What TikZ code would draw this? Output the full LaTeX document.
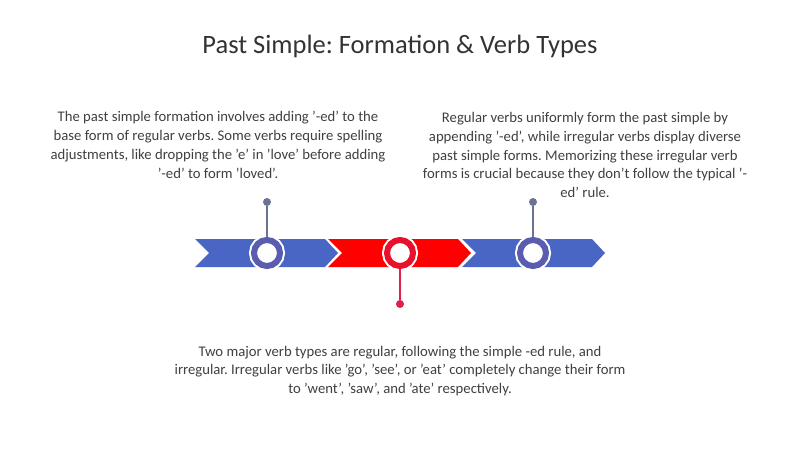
\documentclass[tikz,border=0pt]{standalone}
\usepackage{fontspec}
\setmainfont{Carlito}
\usepackage{tikz}
\usetikzlibrary{positioning,calc}

\definecolor{chevblue}{HTML}{4A66C4}
\definecolor{chevred}{HTML}{FF0000}
\definecolor{ringblue}{HTML}{5A5CB0}
\definecolor{ringred}{HTML}{E8102A}
\definecolor{stemblue}{HTML}{6B7394}
\definecolor{stemred}{HTML}{E0204A}
\definecolor{textgray}{HTML}{404040}

\newcommand{\chevron}[2]{%
  \fill[#2] (#1,239) -- ++(130,0) -- ++(13,14) -- ++(-13,14) -- ++(-130,0) -- ++(14,-14) -- cycle;}

\frenchspacing
\begin{document}
\begin{tikzpicture}[
    x=1pt, y=-1pt,
    ring/.style={circle, fill=white, draw=#1, line width=6pt, minimum size=26pt, inner sep=0pt,
                 preaction={draw=white, line width=10pt}},
    pin/.style={circle, fill=#1, minimum size=8pt, inner sep=0pt},
    stem/.style={draw, line width=1.3pt, color=#1},
    para/.style={text=textgray, font=\fontsize{14.7}{18.8}\selectfont, align=center}
]
\useasboundingbox[fill=white] (0,0) rectangle (800,449);

% Title
\node[text=black!80, font=\fontsize{26.5}{30}\selectfont] (title) at (400,46) {Past Simple: Formation \& Verb Types};

% Timeline chevrons
\chevron{195}{chevblue}
\chevron{328}{chevred}
\chevron{462}{chevblue}

% Rings on the timeline
\node[ring=ringblue] (ringA) at (267,253) {};
\node[ring=ringred] (ringB) at (400,253) {};
\node[ring=ringblue] (ringC) at (533,253) {};

% Pins and stems
\node[pin=stemblue] (pinA) at (267,202) {};
\node[pin=stemred] (pinB) at (400,304) {};
\node[pin=stemblue] (pinC) at (533,202) {};
\draw[stem=stemblue] (pinA) -- (ringA);
\draw[stem=stemred] (pinB) -- (ringB);
\draw[stem=stemblue] (pinC) -- (ringC);

% Descriptions
\node[para] (textA) at (218,145) {The past simple formation involves adding '-ed' to the\\
base form of regular verbs. Some verbs require spelling\\
adjustments, like dropping the 'e' in 'love' before adding\\
'-ed' to form 'loved'.};
\node[para] (textC) at (585,155) {Regular verbs uniformly form the past simple by\\
appending '-ed', while irregular verbs display diverse\\
past simple forms. Memorizing these irregular verb\\
forms is crucial because they don't follow the typical '-\\
ed' rule.};
\node[para] (textB) at (400,371) {Two major verb types are regular, following the simple -ed rule, and\\
irregular. Irregular verbs like 'go', 'see', or 'eat' completely change their form\\
to 'went', 'saw', and 'ate' respectively.};

\end{tikzpicture}
\end{document}
